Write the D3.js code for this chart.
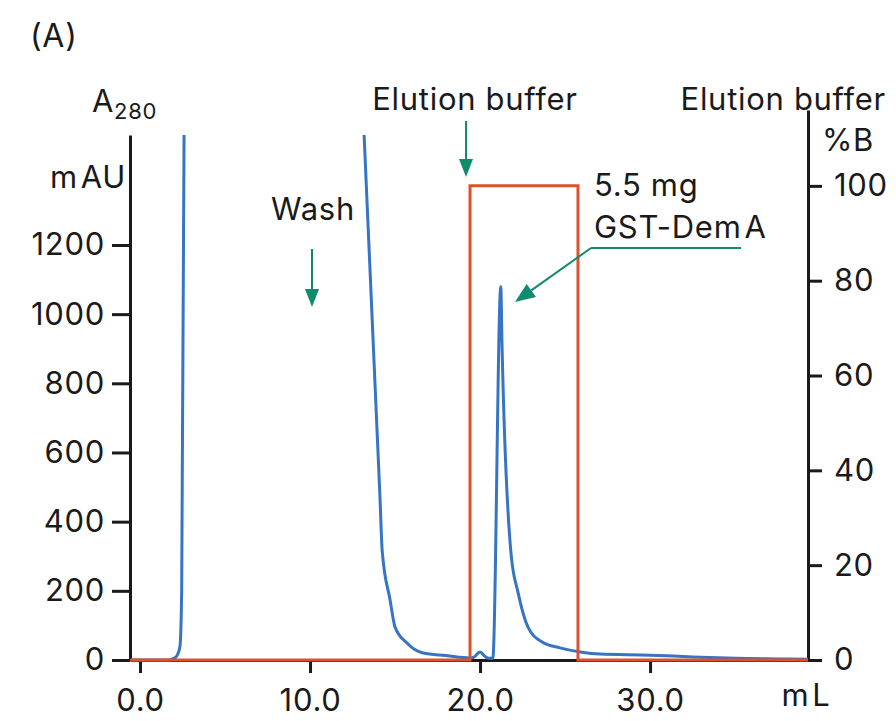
<!DOCTYPE html>
<html>
<head>
<meta charset="utf-8">
<script src="https://cdn.jsdelivr.net/npm/d3@7/dist/d3.min.js"></script>
<style>
  html, body { margin: 0; padding: 0; background: #fff; }
  svg text { font-family: "Inter", "Roboto", sans-serif; fill: #1a1a1a; letter-spacing: 0.7px; }
</style>
</head>
<body>
<svg id="chart" width="896" height="721"></svg>
<script>
// Elution volume ticks (mL)
const xTicks = [0, 10, 20, 30];
const xTickLabels = ["0.0", "10.0", "20.0", "30.0"];
// A280 ticks (mAU) and %B ticks
const aTicks = [0, 200, 400, 600, 800, 1000, 1200];
const bTicks = [0, 20, 40, 60, 80, 100];

// A280 trace; null marks where the signal runs off scale
const a280mL  = [-0.5, 1.0, 1.7, 2.0, 2.2, 2.35, 2.45, 2.59, 8.0, 13.18, 14.12, 14.24, 14.71, 15.0, 15.7, 16.65, 18.0, 19.4, 19.6, 20.0, 20.3, 20.5, 20.75, 21.22, 21.29, 21.82, 22.24, 22.82, 23.65, 24.7, 25.9, 27.05, 30.0, 32.5, 35.0, 38.2, 39.29];
const a280mAU = [0, 0, 0, 5, 15, 40, 200, 1518, null, 1518, 463, 318, 173, 95, 49, 20, 13, 6, 7, 23, 10, 5, 5, 1079, 917, 309, 194, 95, 52, 35, 23, 17, 14, 9, 5, 3, 2];

// Elution buffer step gradient
const gradientmL = [-0.59, 19.41, 19.41, 25.76, 25.76, 39.29];
const gradientB  = [0, 0, 100, 100, 0, 0];

const svg = d3.select("#chart");
const blue = "#3674c4", red = "#e0512b", green = "#0f8b6d", ink = "#1a1a1a";
const fs = 31;
const fontStack = "Inter, Roboto, sans-serif";

const x = d3.scaleLinear().domain([-0.59, 39.29]).range([130, 808]);
const yA = d3.scaleLinear().domain([0, 1518]).range([660, 135]);
const yB = d3.scaleLinear().domain([0, 116]).range([660, 110]);

// Axes
const gx = svg.append("g").attr("transform", "translate(0,660)")
  .call(d3.axisBottom(x).tickValues(xTicks).tickFormat((d, i) => xTickLabels[i]).tickSize(13).tickSizeOuter(0).tickPadding(12));
const gl = svg.append("g").attr("transform", "translate(130,0)")
  .call(d3.axisLeft(yA).tickValues(aTicks).tickFormat(d3.format("d")).tickSize(18).tickSizeOuter(0).tickPadding(7));
const gr = svg.append("g").attr("transform", "translate(808,0)")
  .call(d3.axisRight(yB).tickValues(bTicks).tickFormat(d3.format("d")).tickSize(14).tickSizeOuter(0).tickPadding(12));

[gx, gl, gr].forEach(g => {
  g.selectAll("path.domain").attr("stroke", ink).attr("stroke-width", 3);
  g.selectAll(".tick line").attr("stroke", ink).attr("stroke-width", 3);
  g.selectAll(".tick text").attr("font-size", fs).attr("fill", ink)
    .style("font-family", fontStack);
});
gx.selectAll(".tick text").attr("dy", "0.85em");

// A280 curve
const a280 = a280mL.map((v, i) => ({ v, a: a280mAU[i] }));
svg.append("path")
  .datum(a280)
  .attr("fill", "none")
  .attr("stroke", blue)
  .attr("stroke-width", 3)
  .attr("stroke-linejoin", "round")
  .attr("d", d3.line().defined(d => d.a !== null).x(d => x(d.v)).y(d => yA(d.a)).curve(d3.curveMonotoneX));

// %B step
const grad = gradientmL.map((v, i) => ({ v, b: gradientB[i] }));
svg.append("path")
  .datum(grad)
  .attr("fill", "none")
  .attr("stroke", red)
  .attr("stroke-width", 3)
  .attr("d", d3.line().x(d => x(d.v)).y(d => yB(d.b)));

// Labels; a small gap follows "m" before a capital letter
function label(px, py, parts, anchor) {
  const t = svg.append("text").attr("x", px).attr("y", py).attr("font-size", fs)
    .attr("text-anchor", anchor || "start");
  parts.forEach((p, i) => {
    const s = t.append("tspan").text(p);
    if (i > 0) s.attr("dx", 3);
  });
  return t;
}
svg.append("text").attr("x", 30).attr("y", 47).attr("font-size", 32).text("(A)");
const a = svg.append("text").attr("x", 92).attr("y", 112).attr("font-size", fs);
a.append("tspan").text("A");
a.append("tspan").attr("font-size", 22).attr("dy", 7).text("280");
label(126, 188, ["m", "AU"], "end");
label(806, 706, ["m", "L"], "middle");
label(475, 110, ["Elution buffer"], "middle");
label(886, 110, ["Elution buffer"], "end");
label(848, 151, ["%B"], "middle");
label(313, 220, ["Wash"], "middle");
label(594, 196, ["5.5 mg"]);
label(594, 238, ["GST-Dem", "A"]);

// Arrows
function arrow(x1, y1, x2, y2, len, half) {
  const ang = Math.atan2(y2 - y1, x2 - x1);
  const bx = x2 - len * Math.cos(ang), by = y2 - len * Math.sin(ang);
  svg.append("line").attr("x1", x1).attr("y1", y1).attr("x2", bx).attr("y2", by)
    .attr("stroke", green).attr("stroke-width", 2);
  const px = -Math.sin(ang) * half, py = Math.cos(ang) * half;
  svg.append("path")
    .attr("d", `M${x2},${y2}L${bx + px},${by + py}L${bx - px},${by - py}Z`)
    .attr("fill", green);
}
arrow(312, 249, 312, 307, 18, 7);
arrow(466, 121, 466, 177, 18, 7);
svg.append("line").attr("x1", 741).attr("y1", 248).attr("x2", 591).attr("y2", 248)
  .attr("stroke", green).attr("stroke-width", 2);
arrow(591, 248, 515, 302, 20, 8);
</script>
</body>
</html>
